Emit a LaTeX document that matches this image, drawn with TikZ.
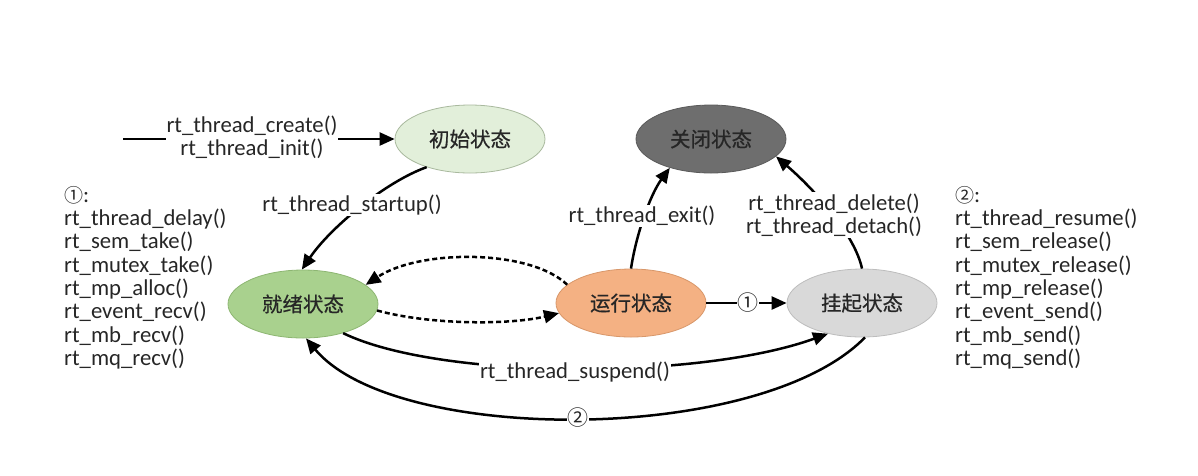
\documentclass[tikz,border=0pt]{standalone}
\usepackage{fontspec}
\setmainfont{Carlito}
\newfontfamily\cjk{Noto Sans CJK SC}
\newfontfamily\cjkb[FakeBold=0.6]{Noto Sans CJK SC}
\usetikzlibrary{shapes.geometric,arrows.meta}
\definecolor{initfill}{HTML}{E2EFDA}
\definecolor{initline}{HTML}{A9B99E}
\definecolor{closefill}{HTML}{6E6E6E}
\definecolor{closeline}{HTML}{5A5A5A}
\definecolor{readyfill}{HTML}{A9D18E}
\definecolor{readyline}{HTML}{8DB672}
\definecolor{runfill}{HTML}{F4B183}
\definecolor{runline}{HTML}{D8976A}
\definecolor{suspfill}{HTML}{D9D9D9}
\definecolor{suspline}{HTML}{BDBDBD}
\begin{document}
\begin{tikzpicture}[x=1pt,y=-1pt,
  state/.style={ellipse,minimum width=150pt,minimum height=68pt,inner sep=0pt,line width=0.8pt,
    font=\cjkb\fontsize{20.5}{24}\selectfont,text=black!85},
  edge/.style={line width=2.5pt,black,-{Triangle[length=15pt,width=13pt]}},
  dedge/.style={edge,dash pattern=on 5pt off 3pt},
  lbl/.style={fill=white,inner sep=1pt,font=\fontsize{22.7}{23.3}\selectfont,text=black!85,align=center},
  lst/.style={inner sep=0pt,anchor=north west,font=\fontsize{22.7}{23.3}\selectfont,text=black!85,align=left},
  circ/.style={fill=white,inner sep=0.5pt,font=\cjk\fontsize{21}{22}\selectfont,text=black!85}]
\useasboundingbox (0,0) rectangle (1198,475);

\node[state,fill=initfill,draw=initline] (init) at (470,139) {初始状态};
\node[state,fill=closefill,draw=closeline] (close) at (711,139) {关闭状态};
\node[state,fill=readyfill,draw=readyline] (ready) at (303,304) {就绪状态};
\node[state,fill=runfill,draw=runline] (run) at (631,303) {运行状态};
\node[state,fill=suspfill,draw=suspline] (susp) at (862,303) {挂起状态};

\coordinate (start) at (123,139);

% edges
\draw[edge] (start) -- (init.west);
\draw[edge] (init.213) .. controls (385,182) and (330,228) .. (ready.92);
\draw[edge] (run.90) .. controls (636,235) and (650,195) .. (close.215);
\draw[edge] (susp.90) .. controls (855,235) and (815,190) .. (close.345);
\draw[dedge] (run.164) .. controls (530,249) and (420,249) .. (ready.17);
\draw[dedge] (ready.355) .. controls (430,325) and (510,325) .. (run.188);
\draw[edge] (run.east) -- (susp.west);
\draw[edge] (ready.324) .. controls (440,380) and (700,380) .. (susp.222);
\draw[edge] (susp.275) .. controls (760,445) and (395,445) .. (ready.275);

% edge labels
\node[lbl] (lcreate) at (252,137) {rt\_thread\_create()\\rt\_thread\_init()};
\node[lbl] (lstart) at (352,205) {rt\_thread\_startup()};
\node[lbl] (lexit) at (642,216) {rt\_thread\_exit()};
\node[lbl] (ldel) at (834,215) {rt\_thread\_delete()\\rt\_thread\_detach()};
\node[lbl] (lsusp) at (575,372) {rt\_thread\_suspend()};
\node[circ] (c1) at (748,303) {①};
\node[circ] (c2) at (578,418) {②};

% lists
\node[lst] (list1) at (64,186) {{\cjk\fontsize{19}{23.3}\selectfont ①}:\\
rt\_thread\_delay()\\rt\_sem\_take()\\rt\_mutex\_take()\\rt\_mp\_alloc()\\rt\_event\_recv()\\rt\_mb\_recv()\\rt\_mq\_recv()};
\node[lst] (list2) at (955,186) {{\cjk\fontsize{19}{23.3}\selectfont ②}:\\
rt\_thread\_resume()\\rt\_sem\_release()\\rt\_mutex\_release()\\rt\_mp\_release()\\rt\_event\_send()\\rt\_mb\_send()\\rt\_mq\_send()};
\end{tikzpicture}
\end{document}
